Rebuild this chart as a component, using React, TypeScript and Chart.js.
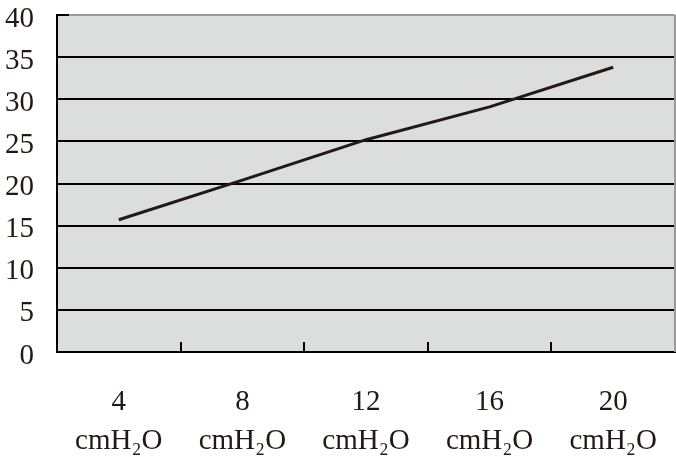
import React, { useEffect, useRef } from "react";
import { Chart, registerables } from "chart.js";

Chart.register(...registerables);

const categories: string[][] = [
  ["4", "cmH₂O"],
  ["8", "cmH₂O"],
  ["12", "cmH₂O"],
  ["16", "cmH₂O"],
  ["20", "cmH₂O"],
];
const values: number[] = [15.7, 20.4, 25.2, 29.1, 33.8];
const yMin = 0;
const yMax = 40;
const yStep = 5;

const FONT = "'Liberation Serif', 'DejaVu Serif', serif";
const TEXT = "#231815";

const areaPlugin = {
  id: "areaPlugin",
  beforeDraw(chart: any) {
    const { ctx, chartArea } = chart;
    ctx.save();
    ctx.fillStyle = "#dcdddd";
    ctx.fillRect(chartArea.left, chartArea.top, chartArea.right - chartArea.left, chartArea.bottom - chartArea.top);
    ctx.restore();
  },
  afterDraw(chart: any) {
    const { ctx, chartArea } = chart;
    ctx.save();
    ctx.strokeStyle = "#9a9a9a";
    ctx.lineWidth = 2;
    ctx.beginPath();
    ctx.moveTo(chartArea.right, chartArea.top);
    ctx.lineTo(chartArea.right, chartArea.bottom);
    ctx.stroke();
    ctx.restore();
  },
};

export default function App() {
  const ref = useRef<HTMLCanvasElement | null>(null);
  useEffect(() => {
    if (!ref.current) return;
    const chart = new Chart(ref.current, {
      type: "line",
      data: {
        labels: categories,
        datasets: [
          {
            data: values,
            borderColor: TEXT,
            borderWidth: 3,
            pointRadius: 0,
            tension: 0,
            fill: false,
          },
        ],
      },
      options: {
        animation: false,
        responsive: false,
        devicePixelRatio: 1,
        layout: { padding: { top: 15, right: 1, left: 0, bottom: 0 } },
        plugins: { legend: { display: false }, tooltip: { enabled: false } },
        scales: {
          x: {
            offset: true,
            grid: {
              offset: true,
              drawOnChartArea: false,
              drawTicks: true,
              tickLength: -10,
              lineWidth: 2,
              color: (c: any) => (c.index === 0 || c.index === categories.length ? "transparent" : "#000"),
            },
            border: { color: "#000", width: 2 },
            ticks: {
              maxRotation: 0,
              autoSkip: false,
              padding: 41,
              color: TEXT,
              font: { family: FONT, size: 29, lineHeight: 1.35 },
            },
            afterFit: (s: any) => {
              s.height = 105;
              s.paddingLeft = 0;
              s.paddingRight = 0;
            },
          },
          y: {
            min: yMin,
            max: yMax,
            grid: {
              lineWidth: 2,
              color: (c: any) => (c.tick && c.tick.value === yMax ? "#9a9a9a" : "#000"),
              tickColor: "#000",
              tickLength: -12,
            },
            border: { color: "#000", width: 2 },
            ticks: {
              stepSize: yStep,
              padding: 35,
              labelOffset: 4,
              color: TEXT,
              font: { family: FONT, size: 29, lineHeight: 1 },
            },
            afterFit: (s: any) => {
              s.width = 57;
              s.paddingTop = 0;
              s.paddingBottom = 0;
            },
          },
        },
      },
      plugins: [areaPlugin],
    });
    return () => chart.destroy();
  }, []);
  return (
    <div style={{ position: "absolute", left: 0, top: 0, width: 676, height: 457, background: "#fff" }}>
      <canvas ref={ref} width={676} height={457} style={{ width: 676, height: 457 }} />
    </div>
  );
}
